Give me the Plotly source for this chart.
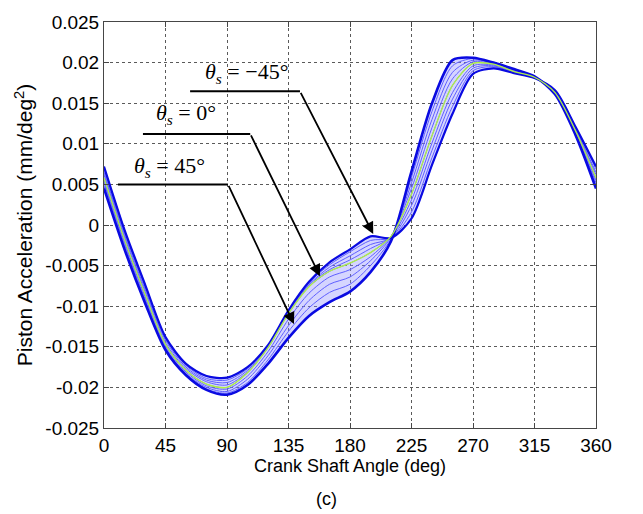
import plotly.graph_objects as go

# crank angle samples (deg)
crank_deg = [0, 15, 30, 45, 60, 75, 90, 105, 120, 135, 150, 165, 180,
             195, 210, 225, 240, 255, 270, 285, 300, 315, 330, 345, 360]

# piston acceleration (mm/deg^2) for each theta_s, from -45 deg to +45 deg
acc_m45 = [0.0072, -0.0006, -0.0073, -0.0138, -0.0171, -0.0186, -0.0188, -0.0175, -0.0148, -0.0105, -0.0070, -0.0046, -0.0030,
           -0.0014, -0.0016, 0.0008, 0.0074, 0.0137, 0.0186, 0.0193, 0.0187, 0.0181, 0.0166, 0.0121, 0.0072]
acc_m34 = [0.0069, -0.0009, -0.0076, -0.0140, -0.0173, -0.0189, -0.0191, -0.0177, -0.0149, -0.0106, -0.0071, -0.0049, -0.0033,
           -0.0019, -0.0016, 0.0016, 0.0083, 0.0146, 0.0190, 0.0195, 0.0188, 0.0181, 0.0165, 0.0120, 0.0069]
acc_m22 = [0.0065, -0.0012, -0.0079, -0.0142, -0.0175, -0.0191, -0.0194, -0.0179, -0.0150, -0.0107, -0.0073, -0.0052, -0.0038,
           -0.0024, -0.0016, 0.0024, 0.0092, 0.0155, 0.0193, 0.0196, 0.0188, 0.0182, 0.0164, 0.0118, 0.0065]
acc_m11 = [0.0062, -0.0015, -0.0082, -0.0145, -0.0177, -0.0193, -0.0197, -0.0181, -0.0151, -0.0108, -0.0074, -0.0055, -0.0043,
           -0.0029, -0.0015, 0.0031, 0.0101, 0.0163, 0.0196, 0.0197, 0.0189, 0.0182, 0.0163, 0.0117, 0.0062]
acc_0 = [0.0058, -0.0018, -0.0085, -0.0147, -0.0179, -0.0196, -0.0200, -0.0182, -0.0151, -0.0109, -0.0076, -0.0057, -0.0047,
         -0.0034, -0.0014, 0.0038, 0.0110, 0.0172, 0.0199, 0.0198, 0.0189, 0.0182, 0.0163, 0.0116, 0.0058]
acc_p11 = [0.0055, -0.0021, -0.0088, -0.0149, -0.0181, -0.0198, -0.0202, -0.0186, -0.0156, -0.0116, -0.0084, -0.0064, -0.0055,
           -0.0039, -0.0014, 0.0045, 0.0120, 0.0180, 0.0201, 0.0198, 0.0190, 0.0182, 0.0162, 0.0115, 0.0055]
acc_p22 = [0.0052, -0.0024, -0.0091, -0.0151, -0.0183, -0.0200, -0.0205, -0.0190, -0.0161, -0.0124, -0.0093, -0.0073, -0.0064,
           -0.0044, -0.0015, 0.0052, 0.0130, 0.0188, 0.0203, 0.0199, 0.0191, 0.0183, 0.0162, 0.0113, 0.0052]
acc_p34 = [0.0048, -0.0027, -0.0094, -0.0153, -0.0184, -0.0202, -0.0207, -0.0194, -0.0166, -0.0131, -0.0102, -0.0083, -0.0073,
           -0.0050, -0.0017, 0.0059, 0.0140, 0.0196, 0.0205, 0.0199, 0.0191, 0.0183, 0.0161, 0.0112, 0.0048]
acc_p45 = [0.0045, -0.0030, -0.0096, -0.0154, -0.0185, -0.0203, -0.0209, -0.0197, -0.0171, -0.0139, -0.0112, -0.0095, -0.0082,
           -0.0058, -0.0020, 0.0066, 0.0150, 0.0203, 0.0206, 0.0200, 0.0192, 0.0183, 0.0161, 0.0111, 0.0045]

x_ticks = [0, 45, 90, 135, 180, 225, 270, 315, 360]
y_ticks = [-0.025, -0.02, -0.015, -0.01, -0.005, 0, 0.005, 0.01, 0.015, 0.02, 0.025]
y_tick_text = ["-0.025", "-0.02", "-0.015", "-0.01", "-0.005", "0",
               "0.005", "0.01", "0.015", "0.02", "0.025"]

# (label, label centre x, y, shelf start, shelf end, shelf y, arrow tip x, y)
callouts = [
    ("\u221245\u00b0", 104.5, 0.0187, 63.0, 143.4, 0.01646, 197.0, -0.0011),
    ("0\u00b0", 60.0, 0.0137, 28.5, 107.0, 0.01122, 158.0, -0.0063),
    ("45\u00b0", 48.0, 0.0071, 10.2, 90.7, 0.0050, 139.0, -0.0122),
]

BLUE = "rgb(10,10,225)"
THIN = "rgb(95,95,255)"
FILL = "rgba(135,135,255,0.35)"

fig = go.Figure()

family = [acc_m45, acc_m34, acc_m22, acc_m11, acc_0, acc_p11, acc_p22, acc_p34, acc_p45]
for i, ys in enumerate(family):
    fig.add_trace(go.Scatter(x=crank_deg, y=ys, mode="lines",
                             line=dict(color=THIN, width=1, shape="spline", smoothing=0.8),
                             fill=None if i == 0 else "tonexty", fillcolor=FILL,
                             showlegend=False, hoverinfo="skip"))

# outer members of the family drawn heavier, theta_s = 0 highlighted
fig.add_trace(go.Scatter(x=crank_deg, y=acc_m45, mode="lines",
                         line=dict(color=BLUE, width=2.2, shape="spline", smoothing=0.8),
                         showlegend=False))
fig.add_trace(go.Scatter(x=crank_deg, y=acc_p45, mode="lines",
                         line=dict(color=BLUE, width=2.6, shape="spline", smoothing=0.8),
                         showlegend=False))
fig.add_trace(go.Scatter(x=crank_deg, y=acc_0, mode="lines",
                         line=dict(color="rgb(175,240,70)", width=1.3, shape="spline", smoothing=0.8),
                         showlegend=False))

for val, tx, ty, x0, x1, sy, hx, hy in callouts:
    fig.add_annotation(x=tx, y=ty, xref="x", yref="y", showarrow=False,
                       text="<i>\u03b8</i><sub><i>s</i></sub> = " + val,
                       font=dict(family="Liberation Serif", size=22, color="black"))
    fig.add_shape(type="line", xref="x", yref="y", x0=x0, x1=x1, y0=sy, y1=sy,
                  line=dict(color="black", width=2))
    fig.add_annotation(x=hx, y=hy, ax=x1, ay=sy, xref="x", yref="y",
                       axref="x", ayref="y", text="", showarrow=True,
                       arrowhead=2, arrowsize=1.3, arrowwidth=1.8, arrowcolor="black",
                       standoff=0)

fig.add_annotation(x=0.453, y=-0.175, xref="paper", yref="paper", yanchor="middle",
                   text="(c)", showarrow=False,
                   font=dict(family="Liberation Sans", size=18, color="black"))

axis_common = dict(showline=True, linecolor="rgb(70,70,70)", linewidth=1, mirror="ticks",
                   ticks="inside", ticklen=5, tickcolor="rgb(70,70,70)",
                   showgrid=True, gridcolor="rgb(90,90,90)", griddash="dot", gridwidth=1,
                   zeroline=False,
                   tickfont=dict(family="Liberation Sans", size=19, color="black"))

fig.update_layout(
    width=643, height=514,
    margin=dict(l=104, r=47, t=18, b=86),
    paper_bgcolor="white", plot_bgcolor="white",
    xaxis=dict(range=[0, 360], tickvals=x_ticks, ticktext=[str(v) for v in x_ticks],
               title=dict(text="Crank Shaft Angle (deg)", standoff=3,
                          font=dict(family="Liberation Sans", size=18, color="black")),
               **axis_common),
    yaxis=dict(range=[-0.025, 0.025], tickvals=y_ticks, ticktext=y_tick_text,
               title=dict(text="Piston Acceleration (mm/deg<sup>2</sup>)", standoff=6,
                          font=dict(family="Liberation Sans", size=21, color="black")),
               **axis_common),
)

fig.write_html("out.html")
